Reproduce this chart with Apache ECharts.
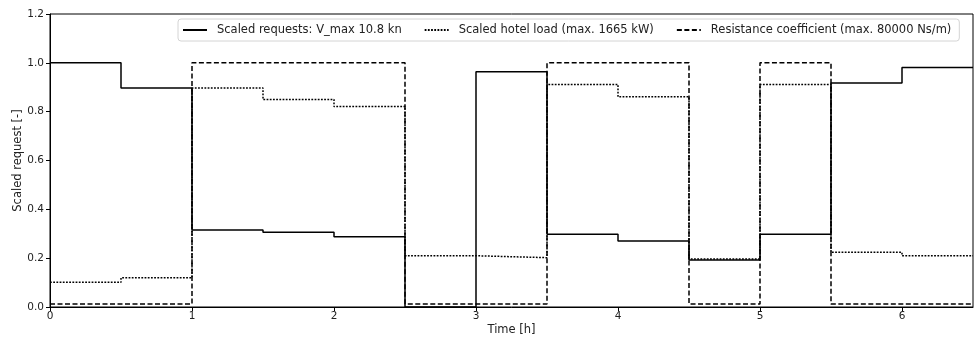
<!DOCTYPE html>
<html>
<head>
<meta charset="utf-8">
<script src="https://cdn.jsdelivr.net/npm/echarts@6/dist/echarts.min.js"></script>
<style>html,body{margin:0;padding:0;background:#fff}#c{width:975px;height:337px}</style>
</head>
<body>
<div id="c"></div>
<script>
// Step start times [h] (last point closes the final step)
const timeH = [0, 0.5, 1, 1.5, 2, 2.5, 3, 3.5, 4, 4.5, 5, 5.5, 6, 6.5];
// Scaled requests: V_max 10.8 kn
const requests = [1.0, 0.897, 0.315, 0.306, 0.288, 0.0, 0.963, 0.298, 0.270, 0.193, 0.298, 0.917, 0.981, 0.981];
// Scaled hotel load (max. 1665 kW)
const hotel = [0.101, 0.120, 0.897, 0.850, 0.821, 0.210, 0.202, 0.911, 0.861, 0.197, 0.911, 0.224, 0.210, 0.210];
// Resistance coefficient (max. 80000 Ns/m)
const resist = [0.0125, 0.0125, 1.0, 1.0, 1.0, 0.0125, 0.0125, 1.0, 1.0, 0.0125, 1.0, 0.0125, 0.0125, 0.0125];
const seriesNames = ['Scaled requests: V_max 10.8 kn', 'Scaled hotel load (max. 1665 kW)', 'Resistance coefficient (max. 80000 Ns/m)'];
const xTicks = [0, 1, 2, 3, 4, 5, 6];
const yTicks = [0, 0.2, 0.4, 0.6, 0.8, 1.0, 1.2];

const pair = (vals) => timeH.map((t, i) => [t, vals[i]]);
const font = 'DejaVu Sans';
const chart = echarts.init(document.getElementById('c'), null, {renderer: 'canvas'});
chart.setOption({
  animation: false,
  backgroundColor: '#fff',
  textStyle: {fontFamily: font},
  grid: {left: 50, right: 2, top: 14, bottom: 30, containLabel: false, outerBoundsMode: 'none',
    show: true, borderColor: '#000', borderWidth: 1, backgroundColor: 'transparent'},
  legend: {
    left: 178, top: 19,
    itemWidth: 24, itemHeight: 14, itemGap: 22,
    padding: [5, 8, 5, 4],
    borderColor: '#d4d4d4', borderWidth: 1, borderRadius: 3,
    backgroundColor: 'rgba(255,255,255,0.85)',
    itemStyle: {opacity: 0},
    textStyle: {fontFamily: font, fontSize: 11.5, color: '#222', padding: [0, 0, 0, 5]},
    data: seriesNames
  },
  xAxis: {
    type: 'value', min: 0, max: 6.5, interval: 1,
    name: 'Time [h]', nameLocation: 'middle', nameGap: 17, nameMoveOverlap: false,
    nameTextStyle: {fontFamily: font, fontSize: 11.5, color: '#222'},
    axisLine: {show: true, lineStyle: {color: '#000', width: 1}},
    axisTick: {show: true, inside: false, length: 4, lineStyle: {color: '#000'}},
    axisLabel: {fontFamily: font, fontSize: 10.5, color: '#222', margin: 4, showMaxLabel: false,
      formatter: v => xTicks.includes(v) ? String(v) : ''},
    splitLine: {show: false}
  },
  yAxis: {
    type: 'value', min: 0, max: 1.2, interval: 0.2,
    name: 'Scaled request [-]', nameLocation: 'middle', nameGap: 26, nameRotate: 90, nameMoveOverlap: false,
    nameTextStyle: {fontFamily: font, fontSize: 11.5, color: '#222'},
    axisLine: {show: true, lineStyle: {color: '#000', width: 1}},
    axisTick: {show: true, inside: false, length: 4, lineStyle: {color: '#000'}},
    axisLabel: {fontFamily: font, fontSize: 10.5, color: '#222', margin: 6,
      formatter: v => v.toFixed(1)},
    splitLine: {show: false}
  },
  series: [
    {name: seriesNames[0], type: 'line', step: 'end', data: pair(requests), symbol: 'none',
      lineStyle: {color: '#000', width: 1.5, type: 'solid'}, itemStyle: {color: '#000'}},
    {name: seriesNames[1], type: 'line', step: 'end', data: pair(hotel), symbol: 'none',
      lineStyle: {color: '#000', width: 1.5, type: [1.8, 1.4]}, itemStyle: {color: '#000'}},
    {name: seriesNames[2], type: 'line', step: 'end', data: pair(resist), symbol: 'none',
      lineStyle: {color: '#000', width: 1.5, type: [5, 2.5]}, itemStyle: {color: '#000'}}
  ]
});
</script>
</body>
</html>
